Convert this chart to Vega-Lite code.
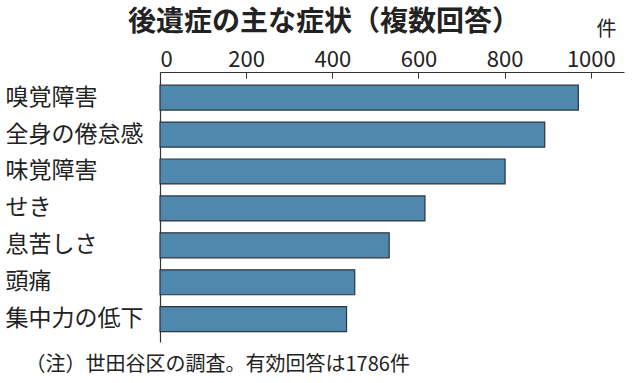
{
  "$schema": "https://vega.github.io/schema/vega-lite/v6.json",
  "width": 464,
  "height": 270,
  "autosize": {"type": "none"},
  "padding": {"left": 160, "top": 72, "right": 14, "bottom": 41},
  "background": "white",
  "title": {
    "text": "後遺症の主な症状（複数回答）",
    "anchor": "start",
    "frame": "group",
    "dx": -32,
    "dy": 22,
    "font": "Noto Sans CJK JP",
    "fontSize": 28,
    "fontWeight": "bold",
    "color": "#222222",
    "offset": 4
  },
  "data": {
    "values": [
      {"symptom": "嗅覚障害", "count": 971},
      {"symptom": "全身の倦怠感", "count": 893},
      {"symptom": "味覚障害", "count": 801},
      {"symptom": "せき", "count": 615},
      {"symptom": "息苦しさ", "count": 532},
      {"symptom": "頭痛", "count": 452},
      {"symptom": "集中力の低下", "count": 433}
    ]
  },
  "mark": {"type": "bar", "fill": "#4f87ad", "stroke": "#2a3640", "strokeWidth": 1.2},
  "encoding": {
    "y": {
      "field": "symptom",
      "type": "nominal",
      "sort": null,
      "scale": {"paddingInner": 0.324, "paddingOuter": 0.3175, "align": 0.56},
      "axis": {
        "title": "（注）世田谷区の調査。有効回答は1786件",
        "titleAngle": 0,
        "titleX": -135,
        "titleY": 292,
        "titleAlign": "left",
        "titleBaseline": "middle",
        "titleFont": "Noto Sans CJK JP",
        "titleFontSize": 20,
        "titleFontWeight": "normal",
        "titleColor": "#222222",
        "ticks": false,
        "labelAlign": "left",
        "labelPadding": 155,
        "labelFont": "Noto Sans CJK JP",
        "labelFontSize": 23,
        "labelColor": "#222222",
        "domainColor": "#333333",
        "domainWidth": 1.2
      }
    },
    "x": {
      "field": "count",
      "type": "quantitative",
      "scale": {"domain": [0, 1077], "nice": false},
      "axis": {
        "orient": "top",
        "values": [0, 200, 400, 600, 800, 1000],
        "format": "d",
        "grid": false,
        "title": "件",
        "titleAngle": 0,
        "titleX": 446,
        "titleY": -43,
        "titleAlign": "center",
        "titleBaseline": "middle",
        "titleFont": "Noto Sans CJK JP",
        "titleFontSize": 20,
        "titleFontWeight": "normal",
        "titleColor": "#222222",
        "tickSize": -6,
        "tickColor": "#333333",
        "domainColor": "#333333",
        "domainWidth": 1.2,
        "labelPadding": 7,
        "labelFont": "Liberation Sans Narrow, Noto Sans CJK JP",
        "labelFontSize": 22,
        "labelColor": "#222222"
      }
    }
  },
  "config": {"view": {"stroke": null}}
}
